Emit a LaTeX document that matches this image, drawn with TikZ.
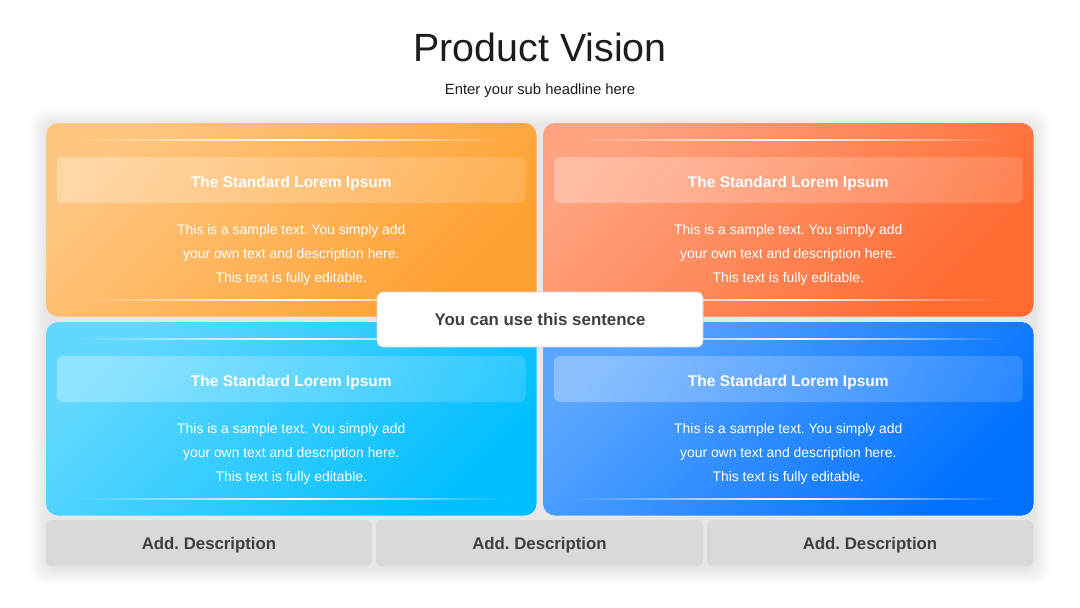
\documentclass[tikz,border=0pt]{standalone}
\usepackage{fontspec}
\setmainfont{Liberation Sans}
\frenchspacing
\usetikzlibrary{fadings}
\definecolor{titlec}{HTML}{1C1C1C}
\definecolor{darktxt}{HTML}{3F3F3F}
\definecolor{oa}{HTML}{FFC680}
\definecolor{ob}{HTML}{FFA030}
\definecolor{ra}{HTML}{FFA27F}
\definecolor{rb}{HTML}{FF6A30}
\definecolor{ca}{HTML}{62D8FF}
\definecolor{cb}{HTML}{00BEFF}
\definecolor{ba}{HTML}{5AA6FF}
\definecolor{bb}{HTML}{0071FF}
\definecolor{graybox}{HTML}{D9D9D9}
\definecolor{boxline}{HTML}{CFCFCF}
\tikzfading[name=fadesides, left color=transparent!100, right color=transparent!100, middle color=transparent!0]
\tikzfading[name=hdrfade, left color=transparent!70, right color=transparent!86]
\begin{document}
\begin{tikzpicture}[x=1pt,y=-1pt,
  panel/.style={rounded corners=12pt},
  hdrbar/.style={fill=white, rounded corners=6pt, path fading=hdrfade},
  glow/.style={fill=white, path fading=fadesides},
  halo/.style={fill=black, fill opacity=0.012, rounded corners=14pt},
  hdrtxt/.style={anchor=base, text=white, font=\bfseries\fontsize{15.5}{18}\selectfont},
  bodytxt/.style={anchor=base, text=white, font=\fontsize{13.9}{16}\selectfont},
  midbox/.style={draw=boxline, line width=0.7pt, fill=white, rounded corners=6pt, minimum width=326pt, minimum height=55pt, inner sep=0pt, text=darktxt, font=\bfseries\fontsize{16.9}{20}\selectfont, text height=12.5pt, text depth=0pt},
  descbox/.style={fill=graybox, rounded corners=5pt, minimum height=46pt, inner sep=0pt, text=darktxt, font=\bfseries\fontsize{16.8}{20}\selectfont, text height=12pt, text depth=0pt}
]
\useasboundingbox[fill=white] (0,0) rectangle (1080,608);

% faint shadow halo around the whole group
\foreach \k in {2,4,...,16} {
  \fill[halo] (46-\k,123-\k+2) rectangle (1033.5+\k,566+\k+2);
}

\node[anchor=base, text=titlec, font=\fontsize{39.4}{46}\selectfont] (title) at (540,61) {Product Vision};
\node[anchor=base, text=titlec, font=\fontsize{14.8}{18}\selectfont] (subtitle) at (540,94) {Enter your sub headline here};

\foreach \px/\py/\cl/\cr/\n in {46/123/oa/ob/1, 543/123/ra/rb/2, 46/322/ca/cb/3, 543/322/ba/bb/4} {
  \shade[panel, top color=\cl, bottom color=\cr, shading angle=45] (\px,\py) rectangle ++(490.5,193.5);
  \fill[glow] (\px+31,\py+16.2) rectangle ++(430,2.2);
  \fill[glow] (\px+31,\py+176.2) rectangle ++(430,2.2);
  \fill[hdrbar] (\px+11,\py+34) rectangle ++(469,46);
  \node[hdrtxt] (hd\n) at (\px+245.3,\py+64.5) {The Standard Lorem Ipsum};
  \node[bodytxt] (ta\n) at (\px+245.3,\py+111.5) {This is a sample text. You simply add};
  \node[bodytxt] (tb\n) at (\px+245.3,\py+135.5) {your own text and description here.};
  \node[bodytxt] (tc\n) at (\px+245.3,\py+159.5) {This text is fully editable.};
}

\node[midbox] (mid) at (540,319.5) {You can use this sentence};

\node[descbox, minimum width=326pt] (d1) at (209,543) {Add. Description};
\node[descbox, minimum width=327pt] (d2) at (539.5,543) {Add. Description};
\node[descbox, minimum width=326pt] (d3) at (870,543) {Add. Description};
\end{tikzpicture}
\end{document}
